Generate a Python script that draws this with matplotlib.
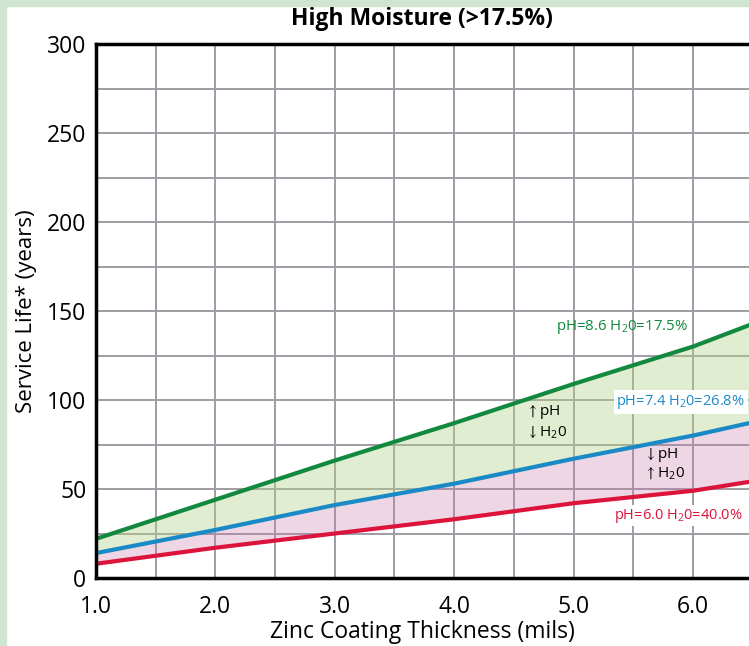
import numpy as np
import matplotlib.pyplot as plt
from matplotlib.patches import Rectangle

# values (service life in years at each coating thickness)
thickness = [1.0, 2.0, 3.0, 4.0, 5.0, 6.0, 6.47]
life_high_ph = [22, 44, 66, 87, 109, 130, 142]   # pH=8.6 H2O=17.5%
life_mid_ph = [14, 27, 41, 53, 67, 80, 87]       # pH=7.4 H2O=26.8%
life_low_ph = [8, 17, 25, 33, 42, 49, 54]        # pH=6.0 H2O=40.0%

x_ticks = [1.0, 2.0, 3.0, 4.0, 5.0, 6.0]
y_ticks = [0, 50, 100, 150, 200, 250, 300]

GREEN = '#12893e'
BLUE = '#1a8ac6'
RED = '#dc143c'
FONT = ['Open Sans', 'DejaVu Sans']

plt.rcParams['font.family'] = FONT
plt.rcParams['mathtext.fontset'] = 'custom'
plt.rcParams['mathtext.rm'] = 'Open Sans'
plt.rcParams['mathtext.it'] = 'Open Sans'
plt.rcParams['mathtext.fallback'] = 'stixsans'


def main():
    fig = plt.figure(figsize=(7.49, 6.46), dpi=100)
    # pale green frame on the left and top
    fig.patches.append(Rectangle((0, 0), 6 / 749, 1, transform=fig.transFigure,
                                 color='#cfe5d1', zorder=0))
    fig.patches.append(Rectangle((0, 1 - 6 / 646), 1, 6 / 646, transform=fig.transFigure,
                                 color='#cfe5d1', zorder=0))

    ax = fig.add_axes([96 / 749, 1 - 578 / 646, 1 - 96 / 749, 534 / 646])
    x = np.array(thickness)
    ax.fill_between(x, life_mid_ph, life_high_ph, color='#b5d38a', alpha=0.4, lw=0, zorder=2)
    ax.fill_between(x, life_low_ph, life_mid_ph, color='#c878aa', alpha=0.3, lw=0, zorder=2)
    ax.plot(x, life_high_ph, color=GREEN, lw=3, zorder=3)
    ax.plot(x, life_mid_ph, color=BLUE, lw=3, zorder=3)
    ax.plot(x, life_low_ph, color=RED, lw=3, zorder=3)

    ax.set_xlim(1.0, 6.47)
    ax.set_ylim(0, 300)
    ax.set_xticks(x_ticks)
    ax.set_xticklabels(['%.1f' % t for t in x_ticks])
    ax.set_yticks(y_ticks)
    ax.set_xticks(np.arange(1.5, 6.5, 0.5), minor=True)
    ax.set_yticks(np.arange(25, 300, 25), minor=True)
    ax.grid(which='both', color='#a09ca4', lw=1.4, zorder=1)
    ax.set_axisbelow(True)
    ax.tick_params(which='both', length=0, labelsize=16.5, pad=7)
    ax.tick_params(axis='x', pad=12)
    for s in ['left', 'bottom', 'top']:
        ax.spines[s].set_linewidth(2.5)
        ax.spines[s].set_zorder(5)
    ax.spines['right'].set_visible(False)

    ax.set_xlabel('Zinc Coating Thickness (mils)', fontsize=16.5, labelpad=1)
    ax.set_ylabel('Service Life* (years)', fontsize=16, labelpad=7)
    fig.text(422 / 749, 1 - 19 / 646, 'High Moisture (>17.5%)', fontsize=16.5,
             fontweight='bold', ha='center', va='center')

    ax.text(4.85, 141, r'pH=8.6 H$_2$0=17.5%', color=GREEN, fontsize=10.8, va='center', zorder=6)
    ax.text(5.36, 99, r'pH=7.4 H$_2$0=26.8%', color=BLUE, fontsize=10.5, va='center', zorder=6,
            bbox=dict(facecolor='white', edgecolor='none', pad=2))
    ax.text(5.34, 35, r'pH=6.0 H$_2$0=40.0%', color=RED, fontsize=10.5, va='center', zorder=6,
            bbox=dict(facecolor='white', edgecolor='none', pad=1))

    ax.text(4.60, 93, r'$\uparrow$pH', fontsize=11, va='center', zorder=6)
    ax.text(4.60, 82, r'$\downarrow$H$_2$0', fontsize=11, va='center', zorder=6)
    ax.text(5.59, 69, r'$\downarrow$pH', fontsize=11, va='center', zorder=6)
    ax.text(5.59, 59, r'$\uparrow$H$_2$0', fontsize=11, va='center', zorder=6)

    fig.savefig('out.png', dpi=100)


if __name__ == "__main__":
    main()
